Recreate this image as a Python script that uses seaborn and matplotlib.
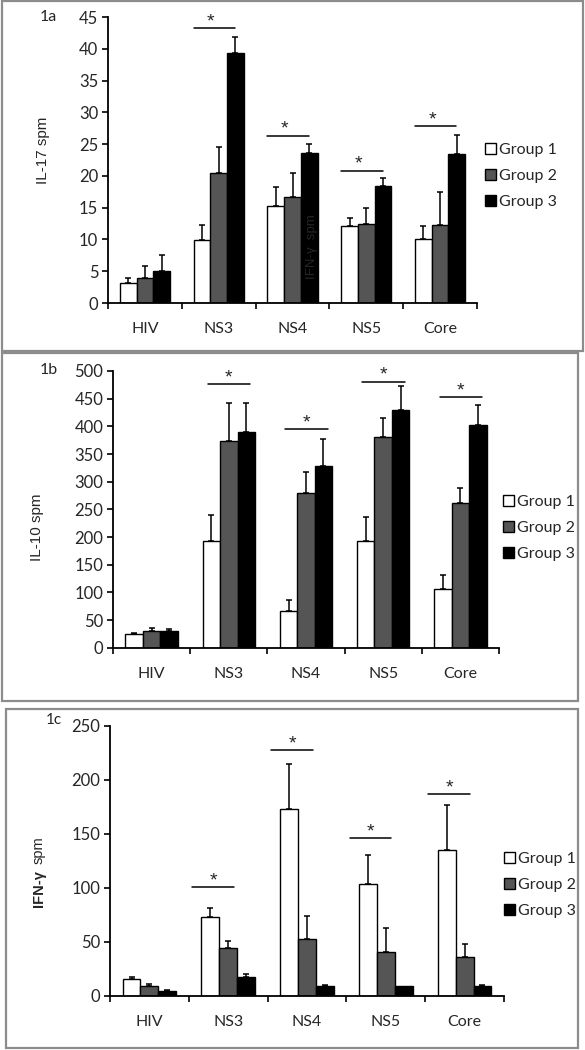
import matplotlib
matplotlib.use("Agg")
import matplotlib.pyplot as plt
from matplotlib.patches import Rectangle
import seaborn as sns
import pandas as pd
import numpy as np

# ---------------- data ----------------
antigens = ["HIV", "NS3", "NS4", "NS5", "Core"]
groups = ["Group 1", "Group 2", "Group 3"]

# Panel 1a: IL-17
il17_g1 = [3.15, 9.96, 15.2, 12.1, 10.0]
il17_g2 = [3.9, 20.4, 16.7, 12.5, 12.3]
il17_g3 = [5.1, 39.4, 23.6, 18.4, 23.4]
il17_e1 = [0.75, 2.24, 3.0, 1.3, 2.1]
il17_e2 = [1.9, 4.1, 3.8, 2.4, 5.1]
il17_e3 = [2.5, 2.5, 1.4, 1.3, 3.1]
il17_sig = [None, 43.2, 26.3, 20.8, 27.8]

# Panel 1b: IL-10
il10_g1 = [24, 193, 67, 193, 106]
il10_g2 = [30, 374, 279, 380, 261]
il10_g3 = [30, 389, 328, 429, 402]
il10_e1 = [3, 47, 20, 43, 25]
il10_e2 = [6, 69, 39, 35, 28]
il10_e3 = [3, 54, 49, 43, 37]
il10_sig = [None, 476.5, 395, 480.7, 452.4]

# Panel 1c: IFN-gamma
ifn_g1 = [16, 73, 173, 104, 135]
ifn_g2 = [9, 44, 52.5, 40.5, 36]
ifn_g3 = [4.5, 17.5, 9.5, 9.3, 9.5]
ifn_e1 = [1.5, 8, 42, 26, 42]
ifn_e2 = [2.5, 7, 21.5, 22.5, 12.5]
ifn_e3 = [1, 2.5, 0.5, 0, 0.5]
ifn_sig = [None, 100.8, 227.2, 145.8, 186.5]

yticks_a = [0, 5, 10, 15, 20, 25, 30, 35, 40, 45]
yticks_b = [0, 50, 100, 150, 200, 250, 300, 350, 400, 450, 500]
yticks_c = [0, 50, 100, 150, 200, 250]

# ---------------- style ----------------
W, H = 585, 1050
sns.set_theme(style="white")
plt.rcParams["font.family"] = ["Lato", "DejaVu Sans"]
palette = ["#ffffff", "#555555", "#000000"]
TICK_FS = 12

fig = plt.figure(figsize=(W / 100, H / 100), dpi=100)
fig.patch.set_facecolor("white")


def fx(px):
    return px / W


def fy(py):
    return 1 - py / H


def frame(x0, y0, x1, y1):
    fig.add_artist(Rectangle((fx(x0), fy(y1)), fx(x1) - fx(x0), fy(y0) - fy(y1),
                             transform=fig.transFigure, fill=False,
                             edgecolor="#8c8c8c", linewidth=1.6))


def panel(rect, g1, g2, g3, e1, e2, e3, sig, ylim, yticks, sig_off, star_off, leg_xy):
    ax = fig.add_axes(rect)
    df = pd.DataFrame({
        "antigen": antigens * 3,
        "group": [g for g in groups for _ in antigens],
        "value": list(g1) + list(g2) + list(g3),
    })
    sns.barplot(data=df, x="antigen", y="value", hue="group", order=antigens,
                hue_order=groups, palette=palette, edgecolor="black",
                linewidth=1.0, width=0.68, errorbar=None, ax=ax, legend=True)
    errs = [e1, e2, e3]
    for cont, err in zip(ax.containers, errs):
        for bar, e in zip(cont.patches, err):
            xc = bar.get_x() + bar.get_width() / 2
            h = bar.get_height()
            if e > 0:
                ax.errorbar([xc], [h], yerr=[[0], [e]], fmt="none", ecolor="black",
                            elinewidth=1.1, capsize=2.2, capthick=1.1, zorder=1)
    for i, s in enumerate(sig):
        if s is None:
            continue
        ax.plot([i + sig_off[0], i + sig_off[1]], [s, s], color="black", lw=1.1,
                clip_on=False)
        ax.annotate("*", (i + star_off, s), xytext=(0, -1.5), textcoords="offset points",
                    ha="center", va="bottom", fontsize=14, annotation_clip=False,
                    family=["Liberation Sans", "DejaVu Sans"])
    ax.set_xlim(-0.5, 4.5)
    ax.set_ylim(*ylim)
    ax.set_yticks(yticks)
    ax.set_yticklabels([str(t) for t in yticks], fontsize=TICK_FS)
    ax.set_xticks(range(len(antigens)))
    ax.set_xticklabels(antigens, fontsize=TICK_FS - 0.5)
    ax.set_xticks(np.arange(-0.5, 5.0, 1.0), minor=True)
    ax.tick_params(axis="x", which="major", length=0, pad=14)
    ax.tick_params(axis="x", which="minor", length=4, width=1.2, direction="out",
                   color="black", bottom=True)
    ax.tick_params(axis="y", which="major", length=4, width=1.2, direction="out",
                   color="black", left=True, pad=3)
    for sp in ["top", "right"]:
        ax.spines[sp].set_visible(False)
    for sp in ["left", "bottom"]:
        ax.spines[sp].set_color("black")
        ax.spines[sp].set_linewidth(1.3)
    ax.set_xlabel("")
    ax.set_ylabel("")
    ax.set_facecolor("none")
    handles, labels = ax.get_legend_handles_labels()
    ax.legend(handles, labels, loc="center left", bbox_to_anchor=leg_xy,
              bbox_transform=fig.transFigure, frameon=False, fontsize=11.5,
              handlelength=0.7, handleheight=0.7, handletextpad=0.2,
              labelspacing=0.75, borderpad=0, borderaxespad=0)
    return ax


# frames
frame(2, 1, 583, 351)
frame(2, 353, 578, 701)
frame(6, 709, 578, 1048)

# Panel 1a
ax_a = panel([fx(108), fy(303), fx(477) - fx(108), fy(17) - fy(303)],
             il17_g1, il17_g2, il17_g3, il17_e1, il17_e2, il17_e3, il17_sig,
             (0, 45), yticks_a, (-0.34, 0.22), -0.11, (fx(485), fy(176)))
fig.text(fx(48), fy(17), "1a", fontsize=11.5, ha="center", va="center")
fig.text(fx(43), fy(150), "IL-17 spm", rotation=90, fontsize=11,
         family=["Liberation Sans", "DejaVu Sans"], ha="center", va="center")
fig.text(fx(312), fy(247), "IFN-γ  spm", rotation=90, fontsize=9.5, color="#262626",
         family=["Liberation Sans", "DejaVu Sans"], ha="center", va="center")

# Panel 1b
ax_b = panel([fx(113), fy(647.7), fx(499) - fx(113), fy(371) - fy(647.7)],
             il10_g1, il10_g2, il10_g3, il10_e1, il10_e2, il10_e3, il10_sig,
             (0, 500), yticks_b, (-0.27, 0.28), 0.0, (fx(503), fy(528)))
fig.text(fx(48.5), fy(370), "1b", fontsize=11.5, ha="center", va="center")
fig.text(fx(37), fy(527), "IL-10 spm", rotation=90, fontsize=11,
         family=["Liberation Sans", "DejaVu Sans"], ha="center", va="center")

# Panel 1c
ax_c = panel([fx(110), fy(996), fx(504) - fx(110), fy(725.7) - fy(996)],
             ifn_g1, ifn_g2, ifn_g3, ifn_e1, ifn_e2, ifn_e3, ifn_sig,
             (0, 250), yticks_c, (-0.46, 0.07), -0.19, (fx(504), fy(885)))
fig.text(fx(54), fy(720), "1c", fontsize=11, ha="center", va="center")
fig.text(fx(39), fy(889), "IFN-γ", rotation=90, fontsize=10.5, fontweight="bold",
         family=["Liberation Sans", "DejaVu Sans"], ha="center", va="center")
fig.text(fx(39), fy(850), "spm", rotation=90, fontsize=10.5,
         family=["Liberation Sans", "DejaVu Sans"], ha="center", va="center")

fig.savefig("out.png", dpi=100, facecolor="white")
